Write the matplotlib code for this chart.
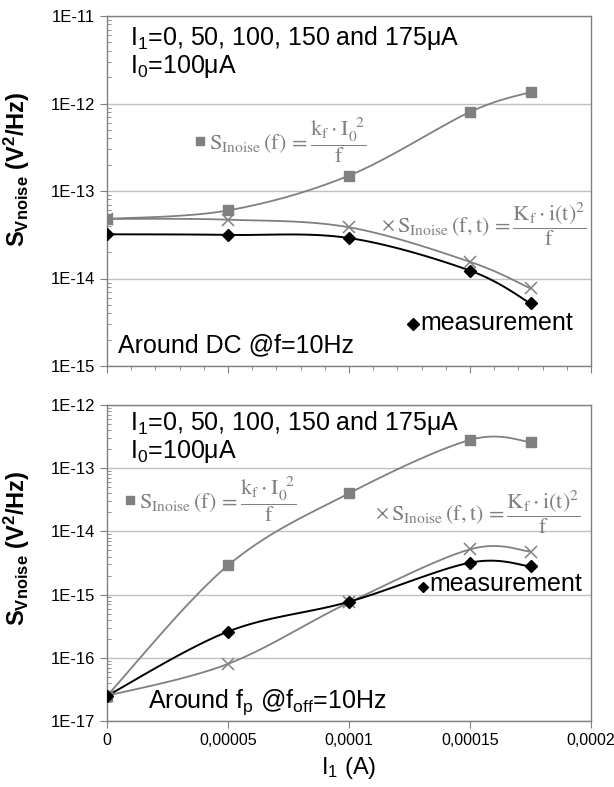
import matplotlib
matplotlib.use("Agg")
import matplotlib.pyplot as plt
import numpy as np

plt.rcParams['font.family'] = ['Liberation Sans', 'DejaVu Sans']
plt.rcParams['mathtext.fontset'] = 'custom'
plt.rcParams['mathtext.rm'] = 'Liberation Sans'
plt.rcParams['mathtext.it'] = 'Liberation Sans:italic'
plt.rcParams['mathtext.bf'] = 'Liberation Sans:bold'

GRAY = '#808080'
GRID = '#c0c0c0'

# data
i1 = [0, 5e-5, 1e-4, 1.5e-4, 1.75e-4]
dc_model_i0 = [4.8e-14, 6.0e-14, 1.5e-13, 8.0e-13, 1.35e-12]
dc_model_it = [4.8e-14, 4.7e-14, 3.85e-14, 1.55e-14, 7.7e-15]
dc_meas = [3.2e-14, 3.15e-14, 2.9e-14, 1.23e-14, 5.2e-15]
fp_model_i0 = [2.5e-17, 2.9e-15, 4.0e-14, 2.8e-13, 2.6e-13]
fp_model_it = [2.5e-17, 8.0e-17, 7.5e-16, 5.2e-15, 4.8e-15]
fp_meas = [2.5e-17, 2.6e-16, 7.7e-16, 3.2e-15, 2.8e-15]

xticks = [0, 5e-5, 1e-4, 1.5e-4, 2e-4]
xtick_labels = ['0', '0,00005', '0,0001', '0,00015', '0,0002']

F1 = r'$\mathrm{S}_\mathrm{Inoise}\,(\mathrm{f})\,=\dfrac{\mathrm{k}_\mathrm{f}\cdot\mathrm{I}_0^{\ \ 2}}{\mathrm{f}}$'
F2 = r'$\mathrm{S}_\mathrm{Inoise}\,(\mathrm{f,t})\,=\dfrac{\mathrm{K}_\mathrm{f}\cdot\mathrm{i(t)}^2}{\mathrm{f}}$'


def smooth(ax, x, y, n=30):
    # excel style smoothing: catmull-rom in display space
    P = ax.transData.transform(np.column_stack([x, y]))
    P = np.vstack([P[0], P, P[-1]])
    out = []
    t = np.linspace(0, 1, n)[:, None]
    for i in range(1, len(P) - 2):
        p0, p1, p2, p3 = P[i - 1], P[i], P[i + 1], P[i + 2]
        c1 = p1 + (p2 - p0) / 6
        c2 = p2 - (p3 - p1) / 6
        seg = ((1 - t) ** 3) * p1 + 3 * ((1 - t) ** 2) * t * c1 + 3 * (1 - t) * t ** 2 * c2 + t ** 3 * p2
        out.append(seg)
    out = np.vstack(out)
    d = ax.transData.inverted().transform(out)
    return d[:, 0], d[:, 1]


def setup(ax, ylim, minor_x):
    ax.set_yscale('log')
    ax.set_xlim(0, 2e-4)
    ax.set_ylim(*ylim)
    for s in ax.spines.values():
        s.set_color(GRAY)
        s.set_linewidth(1)
    ax.yaxis.grid(True, which='major', color=GRID, lw=1)
    ax.set_axisbelow(True)
    ax.set_xticks(xticks)
    if minor_x:
        ax.set_xticks(np.arange(0, 2.01e-4, 1e-5), minor=True)
    ax.tick_params(axis='both', which='major', direction='out', length=5, color=GRAY)
    ax.tick_params(axis='y', labelsize=12)
    ax.tick_params(axis='x', labelsize=11.5)
    ax.tick_params(axis='y', which='minor', direction='in', length=3, color=GRAY)
    ax.tick_params(axis='x', which='minor', direction='out', length=3, color=GRAY)
    ax.yaxis.set_major_formatter(plt.FuncFormatter(lambda v, p: '1E%d' % round(np.log10(v))))
    ax.yaxis.set_minor_formatter(plt.NullFormatter())


fig = plt.figure(figsize=(6.14, 7.87), dpi=100)
ax1 = fig.add_axes([107 / 614, 1 - 366 / 787, 484 / 614, 350 / 787])
ax2 = fig.add_axes([107 / 614, 1 - 721 / 787, 484 / 614, 316 / 787])

setup(ax1, (1e-15, 1e-11), True)
setup(ax2, (1e-17, 1e-12), False)
ax1.set_xticklabels([])
ax2.set_xticklabels(xtick_labels)

for ax, (a, b, c) in [(ax1, (dc_model_i0, dc_model_it, dc_meas)),
                      (ax2, (fp_model_i0, fp_model_it, fp_meas))]:
    ax.plot(*smooth(ax, i1, a), color=GRAY, lw=1.3, zorder=3)
    ax.plot(i1, a, ls='none', marker='s', ms=7, color=GRAY, zorder=4)
    ax.plot(*smooth(ax, i1, b), color=GRAY, lw=1.3, zorder=3)
    ax.plot(i1, b, ls='none', marker='x', ms=8, mew=1.1, color=GRAY, zorder=4)
    ax.plot(*smooth(ax, i1, c), color='black', lw=1.4, zorder=3)
    ax.plot(i1, c, ls='none', marker='D', ms=6, color='black', zorder=4)

ylabel = r'$\mathbf{S}_\mathbf{Vnoise}\ \mathbf{(V^2/Hz)}$'
ax1.set_ylabel(ylabel, fontsize=17)
ax1.yaxis.set_label_coords(-0.155, 0.563)
ax2.set_ylabel(ylabel, fontsize=17)
ax2.yaxis.set_label_coords(-0.155, 0.547)
ax2.set_xlabel(r'I$_1$ (A)', fontsize=17, labelpad=5)

head = 'I$_1$=0, 50, 100, 150 and 175μA\nI$_0$=100μA'


def px(ax, x, y):
    # figure pixel (from top-left) to axes coords
    inv = ax.transAxes.inverted()
    return inv.transform(fig.transFigure.transform((x / 614, 1 - y / 787)))


for ax, y0 in [(ax1, 24), (ax2, 409)]:
    ax.text(*px(ax, 130, y0), head, transform=ax.transAxes, fontsize=18, va='top', ha='left', linespacing=1.05)

ax1.text(*px(ax1, 118, 345), 'Around DC @f=10Hz', transform=ax1.transAxes, fontsize=18, va='center')
ax2.text(*px(ax2, 148, 702), r'Around f$_\mathrm{p}$ @f$_\mathrm{off}$=10Hz', transform=ax2.transAxes, fontsize=18, va='center')


# legend-like formula labels
def flabel(ax, x, y, marker, text, color, ms, **kw):
    ax.plot(*px(ax, x, y), marker=marker, ms=ms, color=color, transform=ax.transAxes, ls='none', clip_on=False, zorder=5, **kw)
    ax.text(*px(ax, x + 9, y), text, transform=ax.transAxes, color=color, fontsize=16,
            va='center', ha='left', math_fontfamily='stix', zorder=5)


flabel(ax1, 200, 141, 's', F1, GRAY, 6)
flabel(ax1, 388, 225, 'x', F2, GRAY, 7, mew=1)
flabel(ax2, 130, 500, 's', F1, GRAY, 6)
flabel(ax2, 382, 513, 'x', F2, GRAY, 7, mew=1)

ax1.plot(*px(ax1, 413, 324), marker='D', ms=6, color='black', transform=ax1.transAxes, ls='none', zorder=5)
ax1.text(*px(ax1, 420, 323), 'measurement', transform=ax1.transAxes, fontsize=18, va='center')
ax2.plot(*px(ax2, 423, 587), marker='D', ms=5, color='black', transform=ax2.transAxes, ls='none', zorder=5)
ax2.text(*px(ax2, 429, 584), 'measurement', transform=ax2.transAxes, fontsize=18, va='center')

fig.savefig('out.png', dpi=100)
